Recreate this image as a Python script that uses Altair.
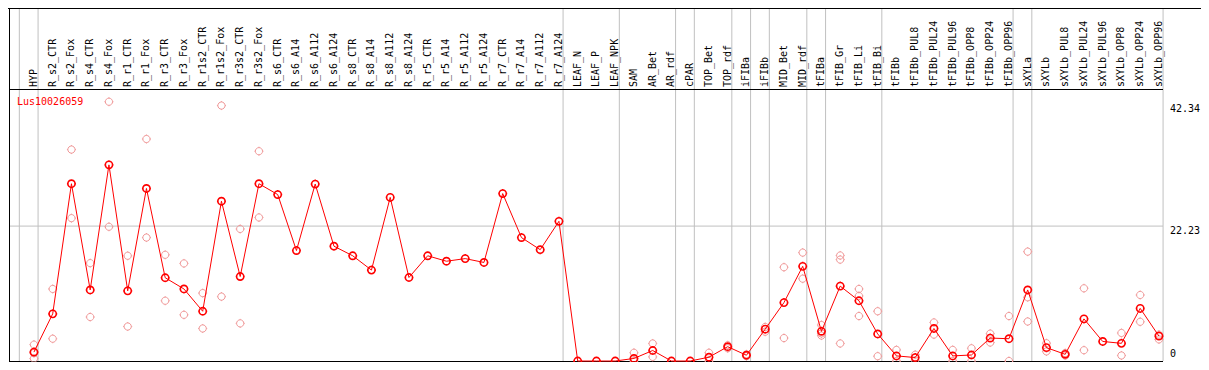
import altair as alt
import pandas as pd

gene = "Lus10026059"

samples = [
    "HYP", "R_s2_CTR", "R_s2_Fox", "R_s4_CTR", "R_s4_Fox", "R_r1_CTR", "R_r1_Fox",
    "R_r3_CTR", "R_r3_Fox", "R_r1s2_CTR", "R_r1s2_Fox", "R_r3s2_CTR", "R_r3s2_Fox",
    "R_s6_CTR", "R_s6_A14", "R_s6_A112", "R_s6_A124", "R_s8_CTR", "R_s8_A14",
    "R_s8_A112", "R_s8_A124", "R_r5_CTR", "R_r5_A14", "R_r5_A112", "R_r5_A124",
    "R_r7_CTR", "R_r7_A14", "R_r7_A112", "R_r7_A124", "LEAF_N", "LEAF_P", "LEAF_NPK",
    "SAM", "AR_Bet", "AR_rdf", "cPAR", "TOP_Bet", "TOP_rdf", "iFIBa", "iFIBb",
    "MID_Bet", "MID_rdf", "tFIBa", "tFIB_Gr", "tFIB_Li", "tFIB_Bi", "tFIBb",
    "tFIBb_PUL8", "tFIBb_PUL24", "tFIBb_PUL96", "tFIBb_OPP8", "tFIBb_OPP24",
    "tFIBb_OPP96", "sXYLa", "sXYLb", "sXYLb_PUL8", "sXYLb_PUL24", "sXYLb_PUL96",
    "sXYLb_OPP8", "sXYLb_OPP24", "sXYLb_OPP96",
]

means = [
    1.47, 7.77, 29.21, 11.71, 32.32, 11.56, 28.43, 13.72, 11.87, 8.2, 26.33, 13.92,
    29.21, 27.43, 18.2, 29.16, 18.92, 17.34, 14.98, 26.96, 13.76, 17.34, 16.44, 16.87,
    16.24, 27.59, 20.34, 18.34, 23.02, 0.0, 0.0, 0.0, 0.42, 1.73, 0.0, 0.0, 0.63,
    2.36, 0.95, 5.25, 9.62, 15.6, 4.89, 12.34, 9.93, 4.46, 0.84, 0.57, 5.36, 0.84,
    0.99, 3.78, 3.67, 11.71, 2.2, 1.1, 6.94, 3.22, 2.91, 8.67, 4.1,
]

replicates = [
    [2.7, 1.3, 0.4], [11.87, 3.67], [34.84, 23.54], [16.13, 7.25], [42.72, 22.12],
    [17.34, 5.68], [36.58, 20.34], [17.5, 9.93], [16.08, 7.61], [11.19, 5.36],
    [42.09, 10.61], [21.76, 6.2], [34.57, 23.65], [], [], [], [], [], [], [], [], [],
    [], [], [], [], [], [], [], [], [], [], [1.36, 0.0], [2.89, 0.68], [], [],
    [1.36, 0.0], [2.6, 2.1], [1.1, 0.8], [5.61, 4.82], [15.45, 3.78], [17.86, 13.56],
    [5.93, 4.55, 4.19], [17.39, 16.71, 2.89], [11.87, 10.72, 7.41], [8.2, 0.79],
    [1.83, 0.0], [1.04, 0.1], [6.35, 4.35], [1.83, 0.0], [2.1, 0.0], [4.51, 3.04],
    [7.41, 0.0], [18.02, 10.5, 6.51], [2.93, 1.58], [1.31, 0.9], [11.98, 1.78], [],
    [4.62, 0.91], [10.88, 6.46], [4.35, 3.56],
]

# index of the last sample in each group (separator drawn just after it)
group_ends = [-1, 0, 28, 31, 34, 35, 37, 38, 39, 41, 42, 45, 52, 53, 60]

y_ticks = [0, 22.23, 42.34]
y_tick_labels = ["0", "22.23", "42.34"]
grid_values = [22.23]

W, H = 1154, 272
BAND = 81
FONT = "DejaVu Sans Mono"
PINK = "#f09898"
GRAY = "#c0c0c0"

xs = alt.Scale(domain=[-1.3307, 60.216], nice=False, zero=False)
ys = alt.Scale(domain=[0, 44.82], nice=False, zero=False)

mean_df = pd.DataFrame({"idx": list(range(len(samples))), "sample": samples, "mean": means})
rep_rows = [(i, v) for i, vals in enumerate(replicates) for v in vals]
rep_df = pd.DataFrame(rep_rows, columns=["idx", "value"])
sep_df = pd.DataFrame({"pos": [e + 0.22 for e in group_ends]})
grid_df = pd.DataFrame({"value": grid_values})
tick_df = pd.DataFrame({"value": y_ticks, "label": y_tick_labels})
one = pd.DataFrame({"a": [0]})

r, k = 0.8, 0.4418
marker = (
    f"M{r},0C{r},{k} {k},{r} 0,{r}C-{k},{r} -{r},{k} -{r},0"
    f"C-{r},-{k} -{k},-{r} 0,-{r}C{k},-{r} {r},-{k} {r},0Z"
    f"M0,-{r}L0,-1M0,{r}L0,1M-{r},0L-1,0M{r},0L1,0"
)

X = lambda f: alt.X(f, scale=xs, axis=None)
Y = lambda f: alt.Y(f, scale=ys, axis=None)

grid = alt.Chart(grid_df).mark_rule(color=GRAY, strokeWidth=1).encode(
    x=alt.value(0), x2=alt.value(W), y=Y("value:Q"))

seps = alt.Chart(sep_df).mark_rule(color=GRAY, strokeWidth=1).encode(
    x=X("pos:Q"), y=alt.value(-BAND), y2=alt.value(H))

top_line = alt.Chart(one).mark_rule(color="black", strokeWidth=1).encode(
    x=alt.value(-1), x2=alt.value(W + 38), y=alt.value(-BAND + 0.5))
band_line = alt.Chart(one).mark_rule(color="black", strokeWidth=1).encode(
    x=alt.value(0), x2=alt.value(W), y=alt.value(0.5))
bottom_line = alt.Chart(one).mark_rule(color="black", strokeWidth=1).encode(
    x=alt.value(0), x2=alt.value(W), y=alt.value(H + 0.5))
left_line = alt.Chart(one).mark_rule(color="black", strokeWidth=1).encode(
    x=alt.value(0.5), y=alt.value(-BAND), y2=alt.value(H + 1))

reps = alt.Chart(rep_df).mark_point(
    shape=marker, size=81, filled=False, stroke=PINK, strokeWidth=1, opacity=1
).encode(x=X("idx:Q"), y=Y("value:Q"))

line = alt.Chart(mean_df).mark_line(color="#ff0000", strokeWidth=1).encode(
    x=X("idx:Q"), y=Y("mean:Q"), order="idx:Q")

pts = alt.Chart(mean_df).mark_point(
    shape=marker, size=81, filled=False, stroke="#ff0000", strokeWidth=1.6, opacity=1
).encode(x=X("idx:Q"), y=Y("mean:Q"))

labels = alt.Chart(mean_df).mark_text(
    angle=270, align="left", baseline="middle", font=FONT, fontSize=10, color="black"
).encode(x=X("idx:Q"), y=alt.value(-2), text="sample:N")

gene_label = alt.Chart(one).mark_text(
    align="left", baseline="alphabetic", font=FONT, fontSize=10, color="#ff0000",
    text=gene
).encode(x=alt.value(8), y=alt.value(15.5))

ytop = alt.Chart(tick_df).transform_filter("datum.value > 0").mark_text(
    align="left", baseline="top", font=FONT, fontSize=10, color="black"
).encode(x=alt.value(W + 7), y=Y("value:Q"), text="label:N")

ybot = alt.Chart(tick_df).transform_filter("datum.value == 0").mark_text(
    align="left", baseline="bottom", font=FONT, fontSize=10, color="black"
).encode(x=alt.value(W + 7), y=alt.value(H - 2), text="label:N")

chart = alt.layer(
    grid, seps, top_line, band_line, bottom_line, left_line,
    reps, line, pts, labels, gene_label, ytop, ybot
).properties(
    width=W, height=H,
    autosize=alt.AutoSizeParams(type="none"),
    padding={"left": 1, "top": BAND, "right": 38, "bottom": 1},
    background="white",
).configure_view(stroke=None)

chart.save("out.html", embed_options={"renderer": "svg", "actions": False})
